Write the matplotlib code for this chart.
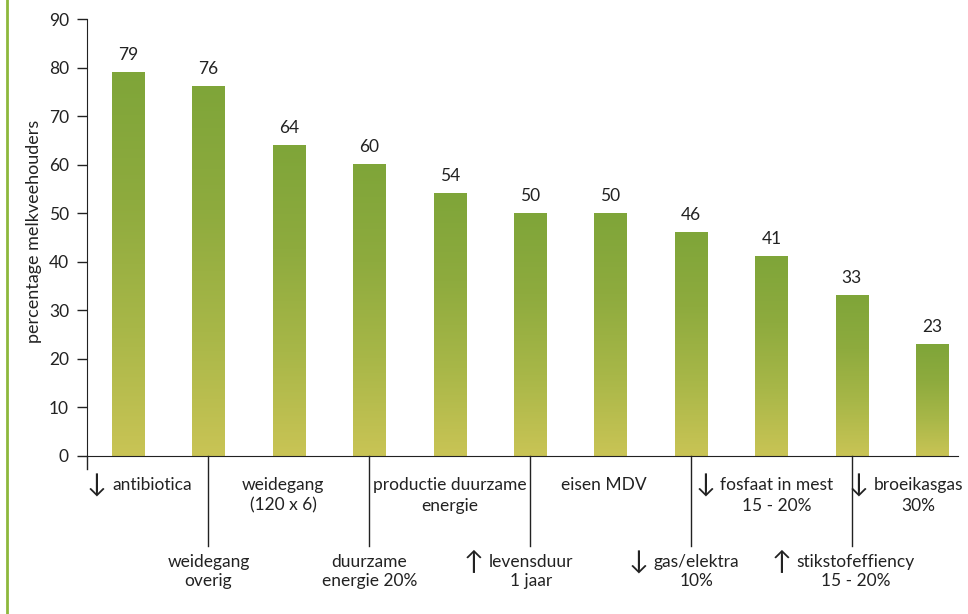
import matplotlib
matplotlib.use("Agg")
import matplotlib.pyplot as plt
import numpy as np
from matplotlib.colors import LinearSegmentedColormap
from matplotlib.lines import Line2D

values = [79, 76, 64, 60, 54, 50, 50, 46, 41, 33, 23]
value_labels = ["79", "76", "64", "60", "54", "50", "50", "46", "41", "33", "23"]
yticks = [0, 10, 20, 30, 40, 50, 60, 70, 80, 90]
ylabel = "percentage melkveehouders"

# category labels: (x position in bar units, arrow, line1, line2, align)
top_labels = [
    (-0.39, "↓", "antibiotica", "", "left"),
    (1.93, "", "weidegang", "(120 x 6)", "center"),
    (4.0, "", "productie duurzame", "energie", "center"),
    (5.92, "", "eisen MDV", "", "center"),
    (8.07, "↓", "fosfaat in mest", "15 - 20%", "center"),
    (9.83, "↓", "broeikasgas", "30%", "center"),
]
bottom_labels = [
    (1.0, "", "weidegang", "overig"),
    (3.0, "", "duurzame", "energie 20%"),
    (5.01, "↑", "levensduur", "1 jaar"),
    (7.07, "↓", "gas/elektra", "10%"),
    (9.05, "↑", "stikstofeffiency", "15 - 20%"),
]
separators = [1, 3, 5, 7, 9]

plt.rcParams['font.family'] = ['Lato', 'DejaVu Sans']
fs = 12.5
fig = plt.figure(figsize=(9.68, 6.14), dpi=100)
ax = fig.add_axes([87/968, 1-456/614, (958-87)/968, (456-19)/614])

cmap = LinearSegmentedColormap.from_list("g", ["#c9c455", "#a8b748", "#8eab3e", "#7fa539"])
grad = np.linspace(0, 1, 256).reshape(-1, 1)
w = 0.4
x = np.arange(len(values))
bars = ax.bar(x, values, width=w, color="none", edgecolor="none")
for xi, v in zip(x, values):
    ax.imshow(grad, cmap=cmap, aspect="auto", origin="lower",
              extent=[xi - w/2, xi + w/2, 0, v], zorder=2, interpolation="bilinear")

for xi, v, lab in zip(x, values, value_labels):
    ax.text(xi, v + 2.0, lab, ha="center", va="bottom", fontsize=fs, color="#222222")

ax.set_xlim(-0.51, 10.32)
ax.set_ylim(0, 90)
ax.set_yticks(yticks)
ax.set_yticklabels([str(t) for t in yticks], fontsize=fs, color="#222222")
ax.set_xticks([])
ax.tick_params(axis="y", direction="out", length=7, width=1, color="#222222", pad=6)
for s in ["top", "right"]:
    ax.spines[s].set_visible(False)
ax.spines["left"].set_color("#222222")
ax.spines["bottom"].set_color("#222222")
ax.set_ylabel(ylabel, fontsize=13, color="#222222")
ax.yaxis.set_label_coords(-0.052, 0.515)

# spine extension below zero
ax.plot([-0.51, -0.51], [0, -2.7], color="#222222", lw=1, clip_on=False)

# separators
for s in separators:
    ax.plot([s, s], [0, -18.5], color="#222222", lw=1, clip_on=False)

tc = "#222222"
y1, y2 = -6.0, -10.2
for xp, arrow, l1, l2, al in top_labels:
    if al == "left":
        ax.text(xp, y1, arrow, ha="center", va="center", fontsize=19, color=tc, clip_on=False)
        ax.text(xp + 0.19, y1, l1, ha="left", va="center", fontsize=fs, color=tc, clip_on=False)
        continue
    ax.text(xp, y1, l1, ha="center", va="center", fontsize=fs, color=tc, clip_on=False)
    if l2:
        ax.text(xp, y2, l2, ha="center", va="center", fontsize=fs, color=tc, clip_on=False)

b1, b2 = -21.9, -25.8
for xp, arrow, l1, l2 in bottom_labels:
    ax.text(xp, b1, l1, ha="center", va="center", fontsize=fs, color=tc, clip_on=False)
    ax.text(xp, b2, l2, ha="center", va="center", fontsize=fs, color=tc, clip_on=False)

# arrows placed relative to text extents
fig.canvas.draw()
r = fig.canvas.get_renderer()
inv = ax.transData.inverted()

def place_arrows(labels, ycoord):
    for item in labels:
        arrow, l1 = item[1], item[2]
        if not arrow or item[-1] == "left":
            continue
        for t in ax.texts:
            if t.get_text() == l1 and abs(t.get_position()[1] - ycoord) < 0.1:
                bb = t.get_window_extent(r)
                xl = inv.transform((bb.x0, 0))[0]
                ax.text(xl - 0.19, ycoord, arrow, ha="center", va="center", fontsize=19,
                        color=tc, clip_on=False)
                break

place_arrows(top_labels, y1)
place_arrows([b + ("c",) for b in bottom_labels], b1)

fig.add_artist(Line2D([6.5/968, 6.5/968], [0, 1], color="#8db83c", lw=2))

fig.savefig("out.png", dpi=100, facecolor="white")
